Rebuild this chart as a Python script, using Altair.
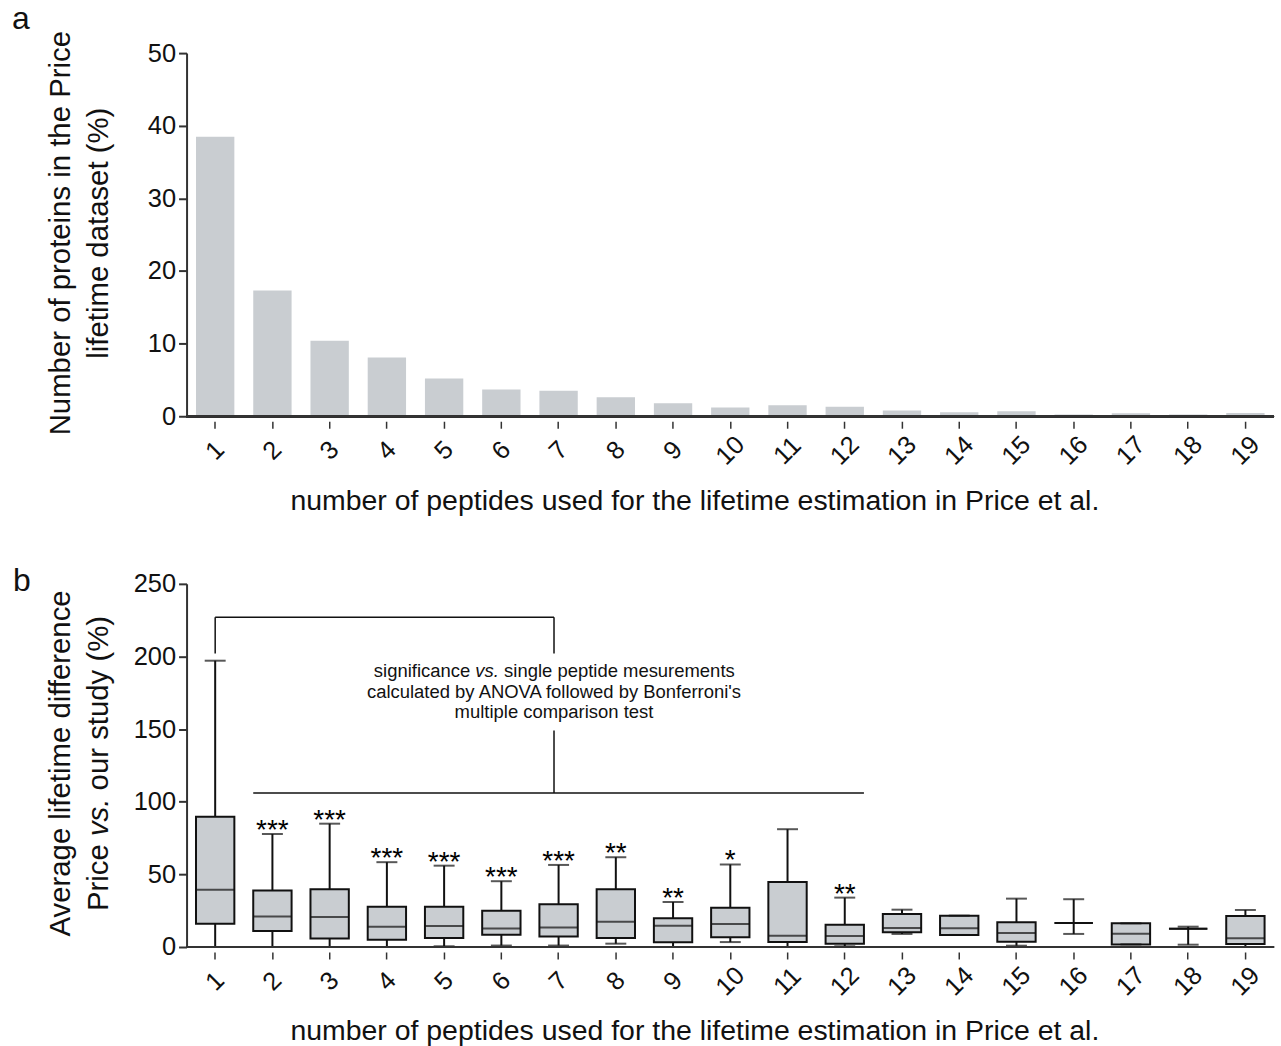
import altair as alt
import pandas as pd

FONT = "Liberation Sans"
GRAY = "#c9cdd1"
INK = "#111111"
AXIS = "#333333"

# ---------------- data ----------------
peptides = [str(i) for i in range(1, 20)]

# panel a: % of proteins per number of peptides
pct_proteins = [38.5, 17.3, 10.4, 8.1, 5.2, 3.7, 3.5, 2.6, 1.8, 1.2,
                1.5, 1.3, 0.8, 0.55, 0.7, 0.25, 0.4, 0.25, 0.45]

# panel b: box plot statistics (% lifetime difference)
whisker_low = [0, 0, 0, 0, 0.5, 1, 1, 2.3, 0, 3.4, 0, 0.5, 9, 8.3, 0.9, 9, 1.8, 1.6, 0]
quart1 = [16, 11, 5.9, 5, 6.2, 8.4, 7.3, 6.2, 3.2, 6.7, 3.4, 2.3, 10.1, 8.3, 3.7, 16.6, 1.8, 12.6, 2]
medians = [39.4, 21, 20.6, 13.9, 14.4, 12.8, 13.5, 17.4, 14.7, 15.9, 7.8, 7.6, 13.1, 12.9, 9.7, 16.6, 9.2, 12.6, 6]
quart3 = [89.7, 38.9, 39.8, 27.7, 27.7, 24.9, 29.5, 39.8, 19.8, 27.1, 44.8, 15.4, 22.8, 21.6, 17, 16.6, 16.3, 12.6, 21.4]
whisker_high = [197.1, 77.8, 84.9, 58.4, 56, 45.3, 56.5, 61.8, 31, 56.8, 81.1, 34, 25.7, 21.6, 33.3, 32.9, 16.3, 14, 25.5]
stars = ["", "***", "***", "***", "***", "***", "***", "**", "**", "*",
         "", "**", "", "", "", "", "", "", ""]

# significance bracket segments (x in category units, y in % units)
bracket_x = [1, 1, 6.92, 6.92, 1.665]
bracket_x2 = [1, 6.92, 6.92, 6.92, 12.335]
bracket_y = [202, 227, 202, 106, 106]
bracket_y2 = [227, 227, 227, 149, 106]

note_lines = ["calculated by ANOVA followed by Bonferroni's", "multiple comparison test"]
note_y = [171.6, 157.4]
note_first_y = 186

W = 1090
H = 364
XTITLE = "number of peptides used for the lifetime estimation in Price et al."
NOVIEW = alt.ViewBackground(stroke="transparent", strokeWidth=0)

df_a = pd.DataFrame({"n": peptides, "pct": pct_proteins})
df_b = pd.DataFrame({"n": peptides, "lo": whisker_low, "q1": quart1, "med": medians,
                     "q3": quart3, "hi": whisker_high, "sig": stars})
df_br = pd.DataFrame({"x": bracket_x, "x2": bracket_x2, "y": bracket_y, "y2": bracket_y2})


def x_axis():
    return alt.Axis(
        title=XTITLE, titleFont=FONT, titleFontSize=28.5, titleFontWeight="normal",
        titleColor=INK, titleX=509, titleY=88, titleBaseline="alphabetic", titleAlign="center",
        labelAngle=315, labelAlign="center", labelBaseline="middle", labelPadding=22,
        labelFont=FONT, labelFontSize=25.5, labelColor=INK,
        tickSize=7, tickWidth=1.5, tickColor=AXIS, offset=5, domain=False, grid=False,
    )


def x_enc():
    return alt.X("n:O", sort=peptides,
                 scale=alt.Scale(paddingInner=0.33, paddingOuter=0.165),
                 axis=x_axis())


# ---------------- panel a ----------------
ya = alt.Y("pct:Q", scale=alt.Scale(domain=[0, 50], nice=False),
           axis=alt.Axis(values=[0, 10, 20, 30, 40, 50],
                         title=["Number of proteins in the Price", "lifetime dataset (%)"],
                         titleFont=FONT, titleFontSize=29.4, titleFontWeight="normal",
                         titleColor=INK, titleLineHeight=38, titleX=-117, titleY=180,
                         titleBaseline="alphabetic", titleAlign="center",
                         labelFont=FONT, labelFontSize=25.5, labelColor=INK, labelPadding=3,
                         labelFlush=False, tickSize=8, tickWidth=2, tickColor=AXIS,
                         domainWidth=2, domainColor=AXIS, grid=False))

bars_a = alt.Chart(df_a).mark_bar(color=GRAY).encode(x=x_enc(), y=ya)
base_a = alt.Chart(df_a).mark_rule(color=AXIS, strokeWidth=2).encode(
    y=alt.datum(0), x=alt.value(0), x2=alt.value(W))
lab_a = alt.Chart(pd.DataFrame({"t": ["a"]})).mark_text(
    font=FONT, fontSize=32, align="left", baseline="alphabetic", color=INK
).encode(x=alt.value(-175), y=alt.value(-24), text="t:N")

panel_a = alt.layer(bars_a, base_a, lab_a).properties(width=W, height=H, view=NOVIEW)

# ---------------- panel b ----------------
YDOM = alt.Scale(domain=[0, 250], nice=False)
yaxis_b = alt.Axis(values=[0, 50, 100, 150, 200, 250], title=None,
                   labelFont=FONT, labelFontSize=25.5, labelColor=INK, labelPadding=3,
                   labelFlush=False, tickSize=8, tickWidth=2, tickColor=AXIS,
                   domainWidth=2, domainColor=AXIS, grid=False)


def yb(field):
    return alt.Y(field, scale=YDOM, axis=yaxis_b)


base = alt.Chart(df_b)
whisk = base.mark_rule(color=INK, strokeWidth=2).encode(x=x_enc(), y=yb("lo:Q"), y2="hi:Q")
boxes = base.mark_bar(fill=GRAY, stroke=INK, strokeWidth=2).encode(x=x_enc(), y=yb("q1:Q"), y2="q3:Q")
med = base.mark_tick(color=INK, size=38.5, thickness=2).encode(x=x_enc(), y=yb("med:Q"))
cap_hi = base.mark_tick(color=INK, size=21, thickness=2).encode(x=x_enc(), y=yb("hi:Q"))
cap_lo = base.mark_tick(color=INK, size=21, thickness=2).encode(x=x_enc(), y=yb("lo:Q"))
sig = base.mark_text(font=FONT, fontSize=28, baseline="alphabetic", dy=5, color="#000000").encode(
    x=x_enc(), y=yb("hi:Q"), text="sig:N")
base_b = alt.Chart(df_b).mark_rule(color=AXIS, strokeWidth=2).encode(
    y=alt.datum(0), x=alt.value(0), x2=alt.value(W))

inner = alt.layer(whisk, boxes, med, cap_hi, cap_lo, sig, base_b)

XQ = alt.Scale(domain=[0.5, 19.5], nice=False, zero=False)
brackets = alt.Chart(df_br).mark_rule(color=INK, strokeWidth=1.5).encode(
    x=alt.X("x:Q", scale=XQ, axis=None), x2="x2:Q",
    y=alt.Y("y:Q", scale=YDOM, axis=yaxis_b), y2="y2:Q")

txt = dict(font=FONT, fontSize=18.5, baseline="alphabetic", color=INK)
note_df = pd.DataFrame({"x": [6.92] * len(note_lines), "y": note_y, "t": note_lines})
note = alt.Chart(note_df).mark_text(align="center", **txt).encode(
    x=alt.X("x:Q", scale=XQ, axis=None), y=alt.Y("y:Q", scale=YDOM, axis=yaxis_b), text="t:N")
first_df = pd.DataFrame({"x": [6.92], "y": [note_first_y]})
n1 = alt.Chart(first_df).mark_text(align="right", dx=-84, text="significance", **txt).encode(
    x=alt.X("x:Q", scale=XQ, axis=None), y=alt.Y("y:Q", scale=YDOM, axis=yaxis_b))
n2 = alt.Chart(first_df).mark_text(align="left", dx=-79, text="vs.", fontStyle="italic", **txt).encode(
    x=alt.X("x:Q", scale=XQ, axis=None), y=alt.Y("y:Q", scale=YDOM, axis=yaxis_b))
n3 = alt.Chart(first_df).mark_text(align="left", dx=-50, text="single peptide mesurements", **txt).encode(
    x=alt.X("x:Q", scale=XQ, axis=None), y=alt.Y("y:Q", scale=YDOM, axis=yaxis_b))

anno = alt.layer(brackets, note, n1, n2, n3)

# y title for panel b (with italic "vs.")
one = pd.DataFrame({"k": [0]})
tt = dict(font=FONT, fontSize=29.4, baseline="alphabetic", angle=270, color=INK)
t1 = alt.Chart(one).mark_text(align="center", text="Average lifetime difference", **tt).encode(
    x=alt.value(-117), y=alt.value(180))
t2 = alt.Chart(one).mark_text(align="right", dx=-81, text="Price", **tt).encode(
    x=alt.value(-79), y=alt.value(180))
t3 = alt.Chart(one).mark_text(align="center", dx=-54, text="vs.", fontStyle="italic", **tt).encode(
    x=alt.value(-79), y=alt.value(180))
t4 = alt.Chart(one).mark_text(align="left", dx=-27, text="our study (%)", **tt).encode(
    x=alt.value(-79), y=alt.value(180))
lab_b = alt.Chart(one).mark_text(font=FONT, fontSize=32, align="left", baseline="alphabetic",
                                 color=INK, text="b").encode(x=alt.value(-174), y=alt.value(7))

panel_b = alt.layer(inner, anno, t1, t2, t3, t4, lab_b).resolve_scale(x="independent").properties(
    width=W, height=H, view=NOVIEW)

chart = alt.vconcat(panel_a, panel_b, spacing=50).properties(
    padding={"left": 12, "top": 2, "right": 6, "bottom": 0}
).configure_view(strokeWidth=0, stroke="transparent").configure(font=FONT)

chart.save("out.html", embed_options={"renderer": "svg", "actions": False})
